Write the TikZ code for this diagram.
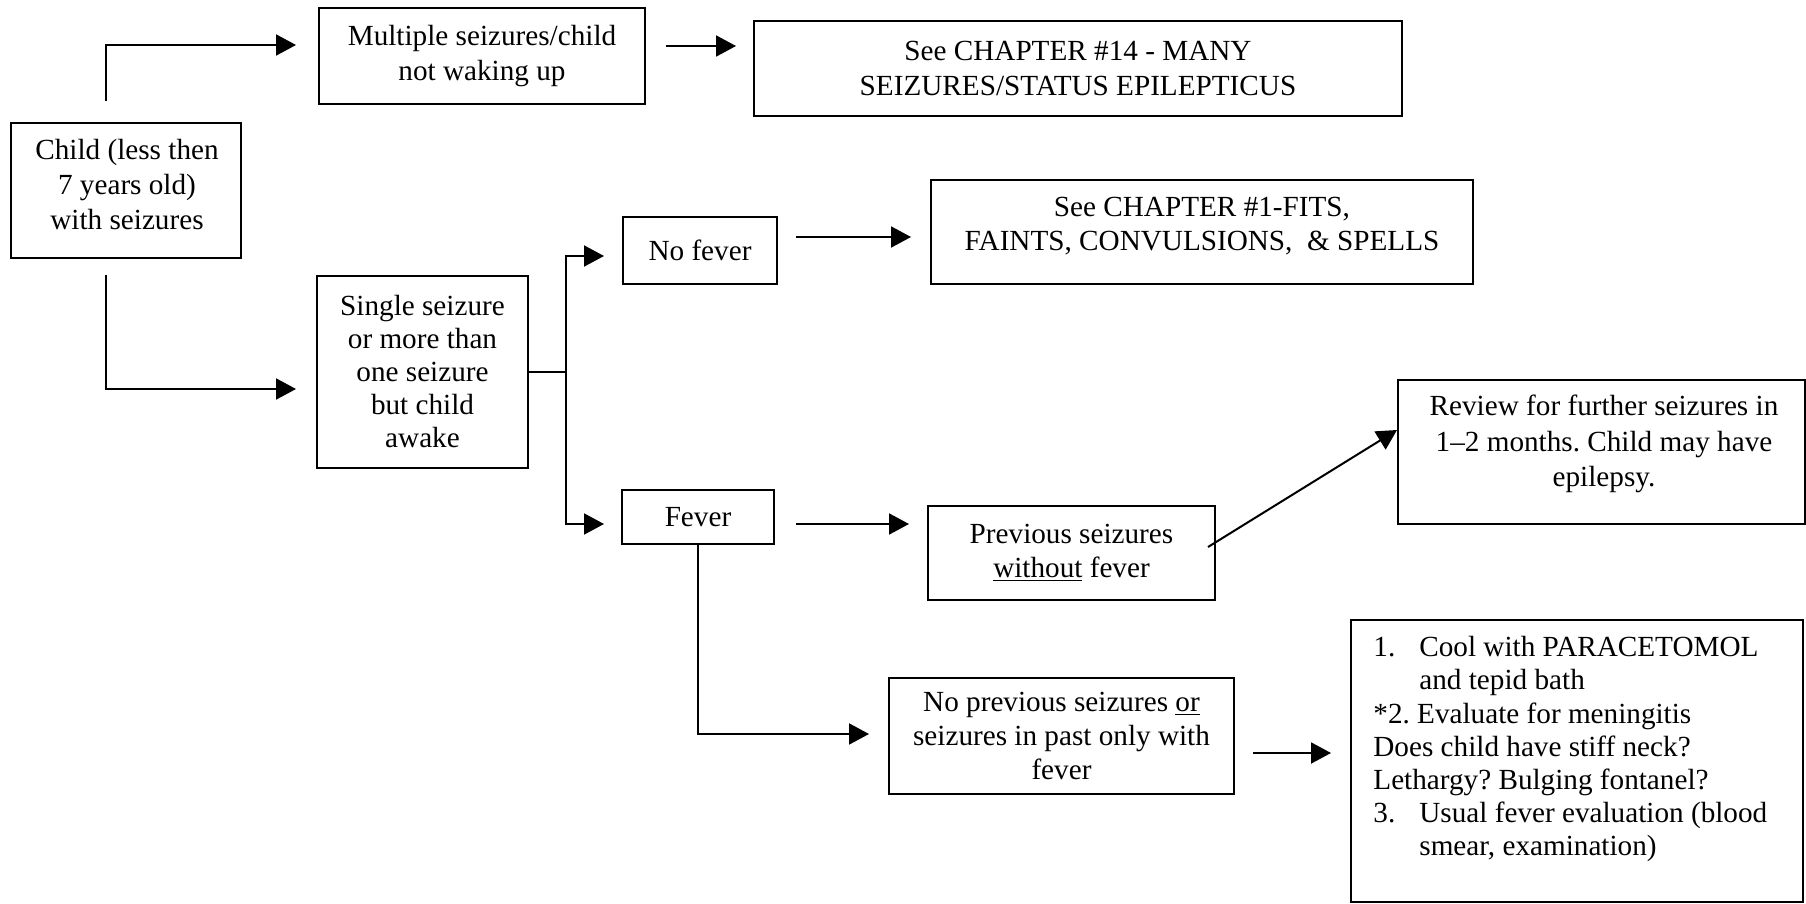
\documentclass[tikz,border=0pt]{standalone}
\usepackage{fontspec}
\setmainfont{Liberation Serif}
\usetikzlibrary{arrows.meta,calc}
\frenchspacing
\tikzset{
  box/.style={draw, line width=1pt, inner sep=0pt, align=center,
    font=\fontsize{14.6pt}{17.2pt}\selectfont},
  txt/.style={inner sep=0pt, font=\fontsize{14.6pt}{17.2pt}\selectfont},
  link/.style={line width=1pt, -{Triangle[length=10pt,width=10.5pt]}},
  plain/.style={line width=1pt},
}
\begin{document}
\begin{tikzpicture}[x=0.5pt,y=-0.5pt]
\useasboundingbox (0,0) rectangle (1806,904);

% decision boxes
\node[box, minimum width=115pt, minimum height=67.5pt] (child) at (126,190.5) {};
\node[txt, align=center, font=\fontsize{14.6pt}{17.5pt}\selectfont] (childtxt) at (127,185)
  {Child (less then\\7 years old)\\with seizures};
\node[box, minimum width=163pt, minimum height=48pt] (multi) at (482,56)
  {Multiple seizures/child\\not waking up};
\node[box, minimum width=324pt, minimum height=47.5pt] (ch14) at (1078,68.5)
  {See CHAPTER \#14 - MANY\\SEIZURES/STATUS EPILEPTICUS};
\node[box, minimum width=105.5pt, minimum height=96pt,
  font=\fontsize{14.6pt}{16.5pt}\selectfont] (single) at (422.5,372)
  {Single seizure\\or more than\\one seizure\\but child\\awake};
\node[box, minimum width=77pt, minimum height=33.5pt] (nofever) at (700,250.5) {No fever};
\node[box, minimum width=271pt, minimum height=52pt] (ch1) at (1202,232) {};
\node[txt, align=center] (ch1txt) at (1202,226)
  {See CHAPTER \#1-FITS,\\FAINTS, CONVULSIONS,\ \ \& SPELLS};
\node[box, minimum width=76pt, minimum height=27pt] (fever) at (698,517) {Fever};
\node[box, minimum width=143.5pt, minimum height=47pt] (prev) at (1071.5,553)
  {Previous seizures\\\underline{without} fever};
\node[box, minimum width=203.5pt, minimum height=72pt] (review) at (1601.5,452) {};
\node[txt, align=center, font=\fontsize{14.6pt}{17.8pt}\selectfont] (reviewtxt) at (1604,444)
  {Review for further seizures in\\1–2 months. Child may have\\epilepsy.};
\node[box, minimum width=172.5pt, minimum height=58pt] (noprev) at (1061.5,736)
  {No previous seizures \underline{or}\\seizures in past only with\\fever};
\node[box, minimum width=226pt, minimum height=141pt] (care) at (1577,761) {};
\node[txt, align=left, anchor=north west, font=\fontsize{14.6pt}{16.6pt}\selectfont]
  (caretxt) at (1373,636)
  {\makebox[23pt][l]{1.}Cool with PARACETOMOL\\
   \hspace*{23pt}and tepid bath\\
   *2. Evaluate for meningitis\\
   Does child have stiff neck?\\
   Lethargy? Bulging fontanel?\\
   \makebox[23pt][l]{3.}Usual fever evaluation (blood\\
   \hspace*{23pt}smear, examination)};

% connectors
\draw[link] ($(child.north)+(-20,-21)$) |- ($(multi.west)+(-22,-11)$);
\draw[link] ($(child.south)+(-20,16)$) |- ($(single.west)+(-20,17)$);
\draw[link] ($(multi.east)+(20,-10)$) -- ($(ch14.west)+(-17,-22.5)$);
\draw[plain] (single.east) -- ++(37,0) coordinate (split);
\draw[link] (split) |- ($(nofever.west)+(-18,5.5)$);
\draw[link] (split) |- ($(fever.west)+(-17,7)$);
\draw[link] ($(nofever.east)+(18,-13.5)$) -- ($(ch1.west)+(-19,5)$);
\draw[link] ($(fever.east)+(21,7)$) -- ($(prev.west)+(-18,-29)$);
\draw[link] ($(prev.east)+(-8,-6)$) -- ($(review.west)+(0,-22)$);
\draw[link] (fever.south) |- ($(noprev.west)+(-19,-2)$);
\draw[link] ($(noprev.east)+(18,17)$) -- ($(care.west)+(-19,-8)$);
\end{tikzpicture}
\end{document}
